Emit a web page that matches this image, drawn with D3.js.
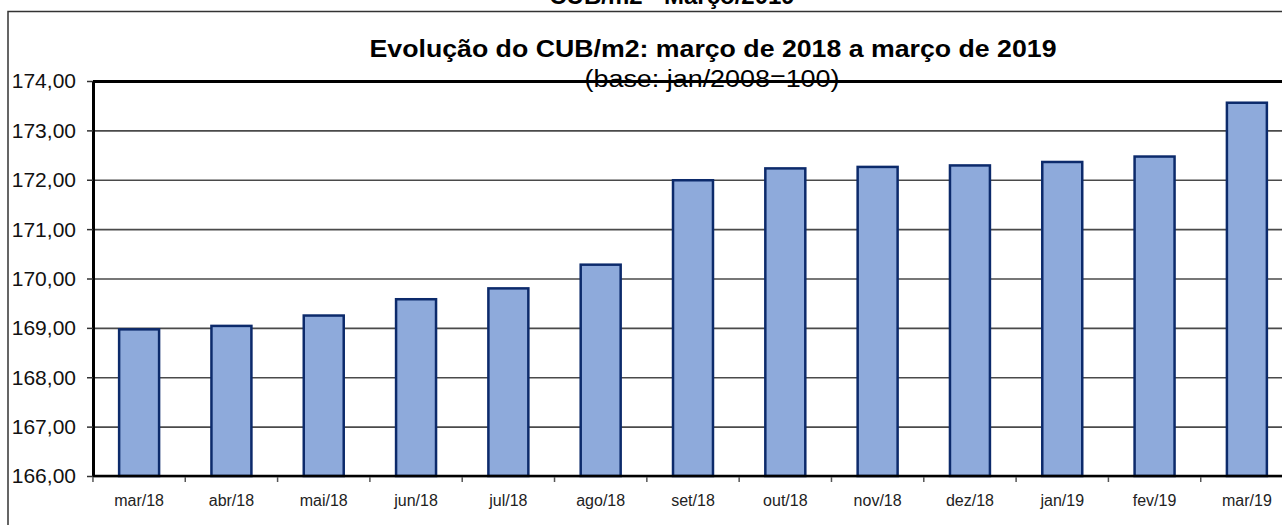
<!DOCTYPE html>
<html>
<head>
<meta charset="utf-8">
<script src="https://cdn.jsdelivr.net/npm/d3@7"></script>
<style>
  body { margin: 0; background: #fff; overflow: hidden; }
</style>
</head>
<body>
<svg id="chart"></svg>
<script>
const categories = ["mar/18", "abr/18", "mai/18", "jun/18", "jul/18", "ago/18", "set/18",
                    "out/18", "nov/18", "dez/18", "jan/19", "fev/19", "mar/19"];
const values = [168.97, 169.04, 169.25, 169.58, 169.80, 170.28, 171.99,
                172.23, 172.26, 172.29, 172.36, 172.47, 173.56];
const yTicks = [166, 167, 168, 169, 170, 171, 172, 173, 174];
const headerText = "CUB/m2 - Março/2019";
const titleText = "Evolução do CUB/m2: março de 2018 a março de 2019";
const subtitleText = "(base: jan/2008=100)";

const width = 1282, height = 525;
const plot_left = 93, plot_right = 1293, plot_top = 81, plot_bottom = 476;
const font_family = "Arial, 'Liberation Sans', sans-serif";

const svg = d3.select("#chart")
    .attr("width", width)
    .attr("height", height)
    .style("background-color", "white");

// outer frame (runs off the right and bottom edges)
svg.append("rect")
    .attr("x", 8)
    .attr("y", 11.5)
    .attr("width", width + 20)
    .attr("height", height)
    .attr("fill", "none")
    .attr("stroke", "#333")
    .attr("stroke-width", 1.5);

// header cut off by the top of the picture (as in the reference)
svg.append("text")
    .attr("x", 672)
    .attr("y", 4)
    .attr("text-anchor", "middle")
    .attr("font-family", font_family)
    .attr("font-size", "24px")
    .style("font-weight", "bold")
    .text(headerText);

let y = d3.scaleLinear()
    .domain([166, 174])
    .range([plot_bottom, plot_top]);

let x = d3.scaleBand()
    .domain(categories)
    .range([plot_left, plot_right])
    .paddingInner(0.567)
    .paddingOuter(0.283);

// gridlines
let grid = svg.append("g")
    .attr("transform", `translate(${plot_left},0)`)
    .call(d3.axisLeft(y).tickValues(yTicks).tickSize(-(plot_right - plot_left)).tickFormat(""));
grid.select(".domain").remove();
grid.selectAll("line")
    .attr("stroke", d => d === 174 ? "#000" : "#4a4a4a")
    .attr("stroke-width", d => d === 174 ? 3 : 1.6);

// bars
svg.append("g")
    .selectAll("rect")
    .data(values)
    .join("rect")
    .attr("x", (d, i) => x(categories[i]))
    .attr("y", d => y(d))
    .attr("width", x.bandwidth())
    .attr("height", d => y(166) - y(d))
    .attr("fill", "#8eaadb")
    .attr("stroke", "#0c2a6b")
    .attr("stroke-width", 2.5);

// y axis
let yAxis = svg.append("g")
    .attr("transform", `translate(${plot_left},0)`)
    .call(d3.axisLeft(y)
        .tickValues(yTicks)
        .tickSize(6)
        .tickPadding(11)
        .tickFormat(d => d.toFixed(2).replace(".", ",")));
yAxis.select(".domain")
    .attr("stroke", "#000")
    .attr("stroke-width", 3)
    .attr("d", `M0.5,${plot_top}V${plot_bottom}`);
yAxis.selectAll("line").attr("stroke", "#333").attr("stroke-width", 1.5);
yAxis.selectAll("text")
    .attr("font-family", font_family)
    .attr("font-size", "21px")
    .attr("fill", "#111")
    .attr("dy", "0.33em");

// x axis
let xAxis = svg.append("g")
    .attr("transform", `translate(0,${plot_bottom})`)
    .call(d3.axisBottom(x).tickSize(0).tickPadding(19));
xAxis.select(".domain")
    .attr("stroke", "#000")
    .attr("stroke-width", 2.5)
    .attr("d", `M${plot_left},0H${width + 20}`);
xAxis.selectAll("text")
    .attr("font-family", font_family)
    .attr("font-size", "16px")
    .attr("fill", "#222");

// tick marks between categories
const gap = (x.step() - x.bandwidth()) / 2;
xAxis.selectAll(".sep")
    .data(categories)
    .join("line")
    .attr("class", "sep")
    .attr("x1", d => x(d) - gap)
    .attr("x2", d => x(d) - gap)
    .attr("y1", 1)
    .attr("y2", 6)
    .attr("stroke", "#555")
    .attr("stroke-width", 1.5);

// titles
svg.append("text")
    .attr("x", 713)
    .attr("y", 57)
    .attr("text-anchor", "middle")
    .attr("font-family", font_family)
    .attr("font-size", "24px")
    .attr("textLength", 687)
    .attr("lengthAdjust", "spacingAndGlyphs")
    .style("font-weight", "bold")
    .text(titleText);

svg.append("text")
    .attr("x", 712)
    .attr("y", 87)
    .attr("text-anchor", "middle")
    .attr("font-family", font_family)
    .attr("font-size", "23px")
    .attr("textLength", 255)
    .attr("lengthAdjust", "spacingAndGlyphs")
    .text(subtitleText);
</script>
</body>
</html>
